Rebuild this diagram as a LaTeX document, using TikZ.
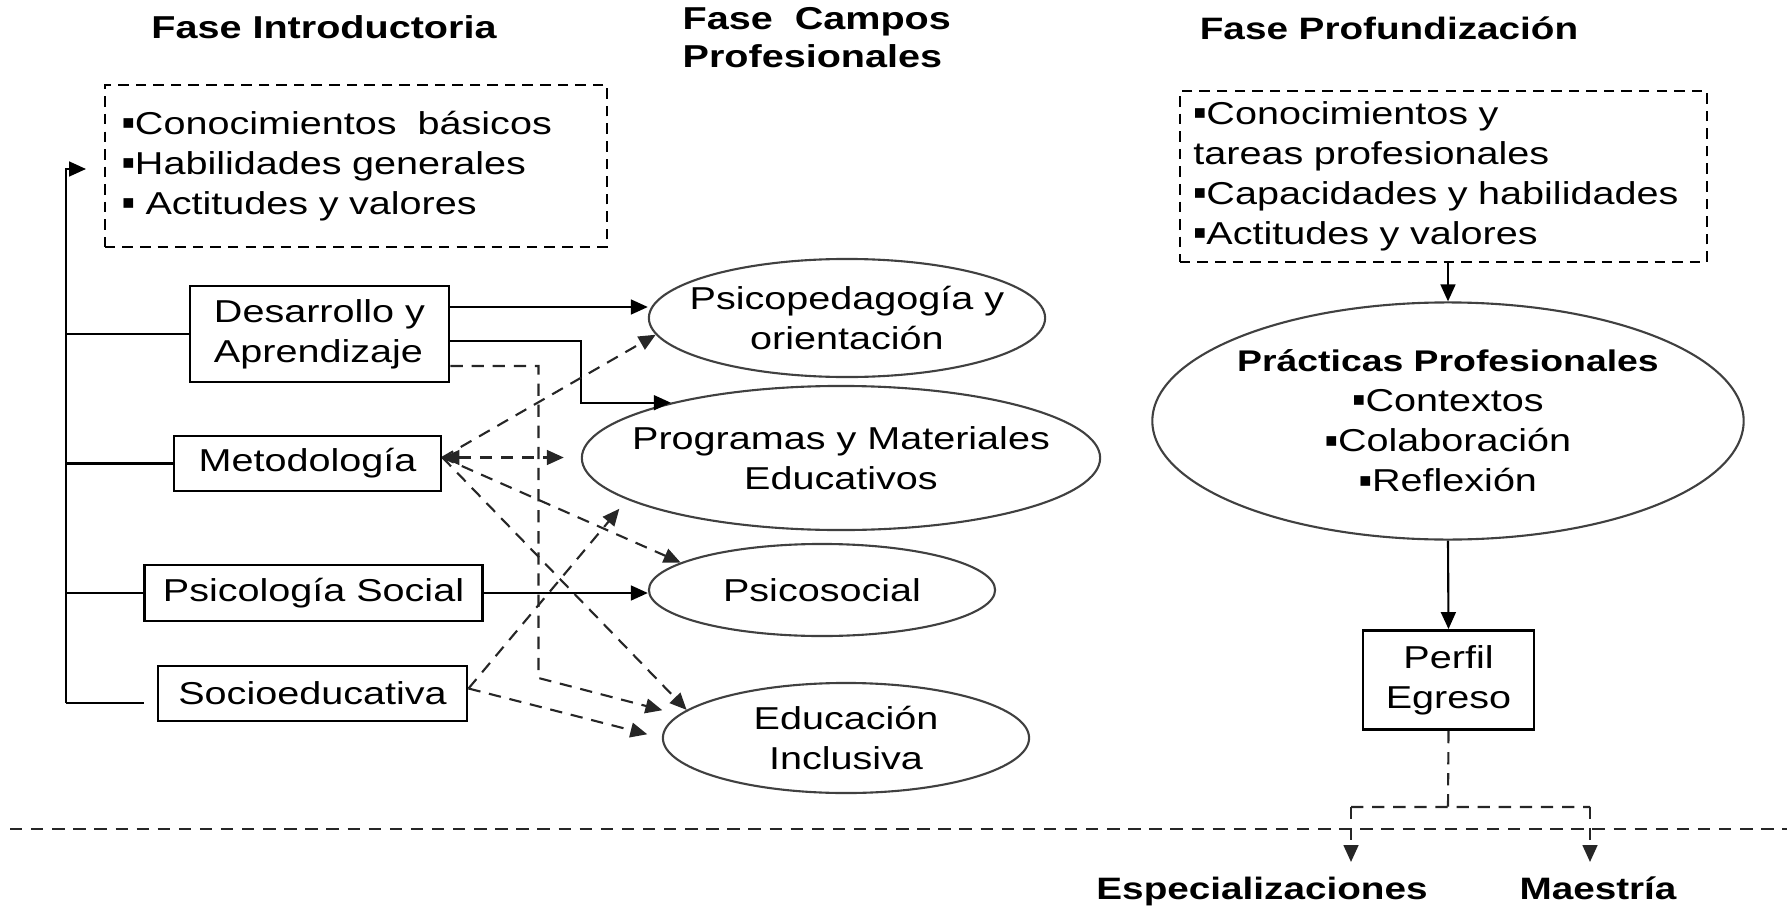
\documentclass[tikz,border=0pt]{standalone}
\usepackage{fontspec}
\setmainfont{Liberation Sans}[FakeStretch=1.25]
\newfontfamily\symf{DejaVu Sans}
\usetikzlibrary{arrows.meta,calc,shapes.geometric}
\newcommand\bl{\raisebox{0.35ex}{\symf\fontsize{5.5}{5.5}\selectfont ▪}}
\begin{document}
\begin{tikzpicture}[x=0.01cm,y=-0.01cm,
  >={Triangle[length=4.8pt,width=4.2pt]},
  txt/.style={font=\fontsize{9}{11.4}\selectfont},
  ttl/.style={font=\bfseries\fontsize{9}{10.8}\selectfont, inner sep=0pt},
  ttlr/.style={font=\bfseries\fontsize{8.8}{10}\selectfont, inner sep=0pt},
  box/.style={draw, line width=0.8pt, rectangle, inner sep=0pt, txt, align=center},
  dbox/.style={draw, line width=0.6pt, dash pattern=on 3pt off 2pt, rectangle, inner sep=0pt, txt, align=left},
  ell/.style={draw=black!75, line width=0.6pt, ellipse, inner sep=-2cm, txt, align=center},
  conn/.style={line width=0.6pt, ->},
  sline/.style={line width=0.6pt},
  dline/.style={line width=0.6pt, black!85, dash pattern=on 3.5pt off 2.5pt},
  dconn/.style={dline, ->},
]
\useasboundingbox (0,0) rectangle (1787,906);

% titles
\node[ttl] (ti) at (324,27) {Fase Introductoria};
\node[ttl, align=left, anchor=west] (tc) at (682,38) {Fase\ \ Campos\\Profesionales};
\node[ttlr] (tp) at (1389,28) {Fase Profundización};

% left column
\node[dbox, minimum width=5.02cm, minimum height=1.62cm, text width=4.68cm] (lb) at (356,166)
  {\bl Conocimientos\ \ básicos\\\bl Habilidades generales\\\bl\ Actitudes y valores};
\node[box, minimum width=2.59cm, minimum height=0.96cm, align=left] (des) at (319.5,334) {Desarrollo y\\Aprendizaje};
\node[box, minimum width=2.67cm, minimum height=0.55cm] (met) at (307.5,463.5) {Metodología};
\node[box, minimum width=3.37cm, minimum height=0.56cm] (pss) at (313.5,593) {Psicología Social};
\node[box, minimum width=3.09cm, minimum height=0.55cm] (soc) at (312.5,693.5) {Socioeducativa};

% ellipses
\node[ell, minimum width=3.96cm, minimum height=1.18cm] (psi) at (847,318) {Psicopedagogía y\\orientación};
\node[ell, minimum width=5.18cm, minimum height=1.44cm] (prog) at (841,458) {Programas y Materiales\\Educativos};
\node[ell, minimum width=3.46cm, minimum height=0.92cm] (psc) at (822,590) {Psicosocial};
\node[ell, minimum width=3.66cm, minimum height=1.10cm] (edu) at (846,738) {Educación\\Inclusiva};

% trunk
\coordinate (tb) at (66,703);
\coordinate (tt) at (66,169);
\coordinate (tip) at (86,169);
\draw[conn] (tb) -- (tt) -- (tip);
\draw[sline] (tb |- des.west) -- (des.west);
\draw[sline] (tb |- met.west) -- (met.west);
\draw[sline] (tb |- pss.west) -- (pss.west);
\draw[sline] (tb) -- ($(soc.west)+(-13,9.5)$);

% solid connectors
\draw[conn] ($(des.east)+(0,-27)$) coordinate (a1) -- (a1 -| psi.west);
\draw[conn] ($(des.east)+(0,7)$) -| (prog.west |- prog.162) -- (prog.162);
\draw[conn] (pss.east) -- (pss.east -| psc.west);

% dashed connectors
\draw[dconn, shorten >=0.17cm] ($(des.east)+(0,32)$) -- ++(88,0) -- ++(0,312) -- (edu.172);
\path ($(met.east)+(0,-6)$) coordinate (m0);
\draw[dconn] (m0) -- (psi.185);
\draw[dline, <->, shorten >=0.17cm] (m0) -- (m0 -| prog.west);
\draw[dconn] (m0) -- (psc.169);
\draw[dconn] (m0) -- (edu.170);
\path ($(soc.east)+(0,-5)$) coordinate (s0);
\draw[dconn, shorten >=0.12cm] (s0) -- (prog.191);
\draw[dconn, shorten >=0.15cm] (s0) -- (edu.west);

% right column
\node[dbox, minimum width=5.27cm, minimum height=1.71cm, text width=5.0cm] (rbox) at (1443.5,176.5)
  {\bl Conocimientos y\\tareas profesionales\\\bl Capacidades y habilidades\\\bl Actitudes y valores};
\node[ell, minimum width=5.91cm, minimum height=2.37cm] (prac) at (1448,421)
  {{\bfseries\fontsize{8.5}{11}\selectfont Prácticas Profesionales}\\\bl Contextos\\\bl Colaboración\\\bl Reflexión};
\node[box, minimum width=1.71cm, minimum height=0.99cm] (perf) at (1448.5,680) {Perfil\\Egreso};
\node[ttlr, anchor=north] (esp) at (1262,876) {Especializaciones};
\node[ttlr, anchor=north] (mae) at (1598,876) {Maestría};

\draw[conn] (prac.north |- rbox.south) -- (prac.north);
\draw[conn] (prac.south) -- (perf.north);
\coordinate (split) at (1448,807);
\coordinate (el) at (1351,807);
\coordinate (er) at (1590,807);
\draw[dline] (perf.south) -- (split) (el) -- (er);
\draw[dconn, shorten >=0.14cm] (el) -- (el |- esp.north);
\draw[dconn, shorten >=0.14cm] (er) -- (er |- mae.north);

% separator
\draw[dline] (10,829) -- (1787,829);
\end{tikzpicture}
\end{document}
